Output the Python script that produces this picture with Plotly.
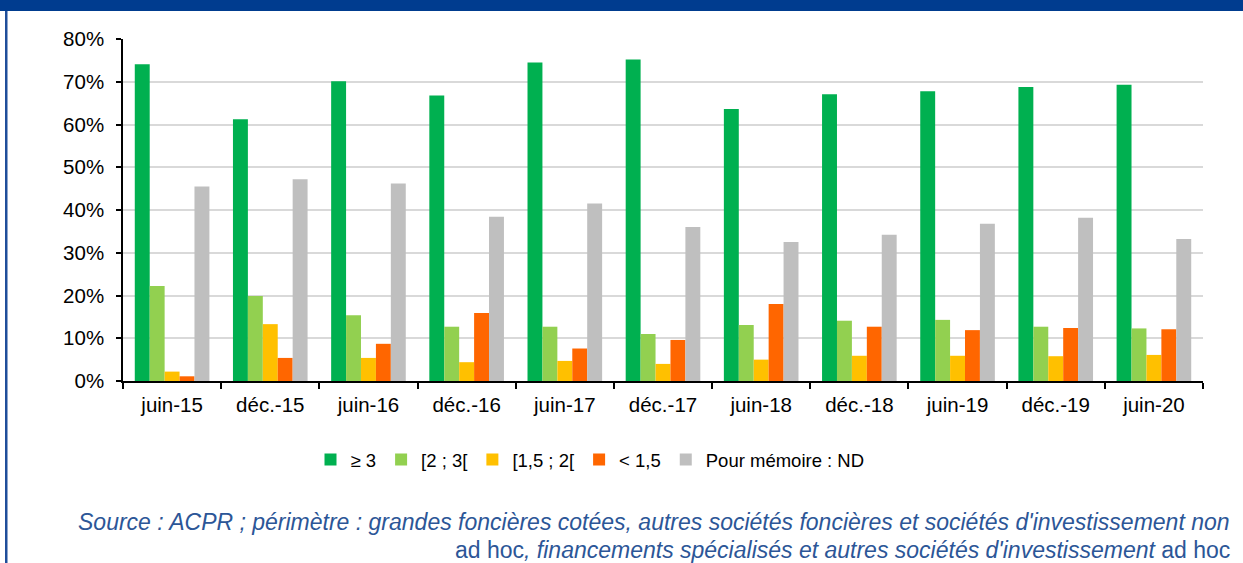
import plotly.graph_objects as go

# Periods (half-yearly)
periods = ["juin-15", "déc.-15", "juin-16", "déc.-16", "juin-17", "déc.-17",
           "juin-18", "déc.-18", "juin-19", "déc.-19", "juin-20"]

# Share of entities per coverage-ratio bucket (fraction of total)
ge_3 = [0.741, 0.612, 0.701, 0.668, 0.745, 0.752, 0.636, 0.671, 0.678, 0.688, 0.693]
b2_3 = [0.222, 0.199, 0.154, 0.127, 0.127, 0.110, 0.131, 0.141, 0.143, 0.127, 0.123]
b15_2 = [0.022, 0.133, 0.054, 0.044, 0.047, 0.040, 0.050, 0.059, 0.059, 0.058, 0.061]
lt_15 = [0.011, 0.054, 0.087, 0.159, 0.076, 0.096, 0.180, 0.127, 0.119, 0.124, 0.121]
nd = [0.455, 0.472, 0.462, 0.384, 0.415, 0.360, 0.325, 0.342, 0.368, 0.382, 0.332]

series_names = ["≥ 3", "[2 ; 3[", "[1,5 ; 2[", "< 1,5", "Pour mémoire : ND"]
series_values = [ge_3, b2_3, b15_2, lt_15, nd]
series_colors = ["#00B050", "#92D050", "#FFC000", "#FF6600", "#BFBFBF"]

FONT = "Liberation Sans, Arial, sans-serif"
W, H = 1243, 563
ML, MR, MT, MB = 123, 40, 39, 182
PW, PH = W - ML - MR, H - MT - MB


def px_x(p):
    return (p - ML) / PW


def px_y(p):
    return (H - MB - p) / PH


fig = go.Figure()
for name, vals, col in zip(series_names, series_values, series_colors):
    fig.add_trace(go.Bar(x=periods, y=vals, name=name,
                         marker=dict(color=col, line=dict(width=0))))

fig.update_layout(
    width=W, height=H,
    margin=dict(l=ML, r=MR, t=MT, b=MB),
    paper_bgcolor="white", plot_bgcolor="white",
    barmode="group", bargap=0.24, bargroupgap=0,
    font=dict(family=FONT, size=20.5, color="black"),
    showlegend=True,
    legend=dict(orientation="h", x=px_x(590), y=px_y(460),
                xanchor="center", yanchor="middle",
                font=dict(family=FONT, size=18.5, color="black"),
                bgcolor="rgba(0,0,0,0)"),
    xaxis=dict(type="category", showline=True, linecolor="black", linewidth=1.5,
               ticks="outside", tickson="boundaries", ticklen=6, tickwidth=1.5,
               tickcolor="black", showgrid=False, ticklabelstandoff=5,
               tickfont=dict(family=FONT, size=20.5, color="black")),
    yaxis=dict(range=[0, 0.8], dtick=0.1, tickformat=".0%", showline=True,
               linecolor="black", linewidth=1.5, ticks="outside", ticklen=5,
               tickwidth=1.5, tickcolor="black", showgrid=True,
               gridcolor="#D9D9D9", gridwidth=2, zeroline=False,
               ticklabelstandoff=8,
               tickfont=dict(family=FONT, size=20.5, color="black")),
)

# Frame: dark blue header band and left rule
fig.add_shape(type="rect", xref="paper", yref="paper",
              x0=px_x(0), x1=px_x(W), y0=px_y(11), y1=px_y(0),
              fillcolor="#003C8F", line=dict(width=0), layer="above")
fig.add_shape(type="rect", xref="paper", yref="paper",
              x0=px_x(5), x1=px_x(7.5), y0=px_y(H), y1=px_y(11),
              fillcolor="#1F4E9A", line=dict(width=0), layer="above")

# Source note
note_color = "#2C5697"
fig.add_annotation(
    xref="paper", yref="paper", x=px_x(1231), y=px_y(522),
    xanchor="right", yanchor="middle", showarrow=False, align="right",
    borderpad=0,
    text="<i>Source : ACPR ; périmètre : grandes foncières cotées, autres sociétés "
         "foncières et sociétés d'investissement non</i>",
    font=dict(family=FONT, size=23, color=note_color))
fig.add_annotation(
    xref="paper", yref="paper", x=px_x(1231), y=px_y(550),
    xanchor="right", yanchor="middle", showarrow=False, align="right",
    borderpad=0,
    text="ad hoc<i>, financements spécialisés et autres sociétés "
         "d'investissement</i> ad hoc",
    font=dict(family=FONT, size=23, color=note_color))

fig.write_html("out.html")
